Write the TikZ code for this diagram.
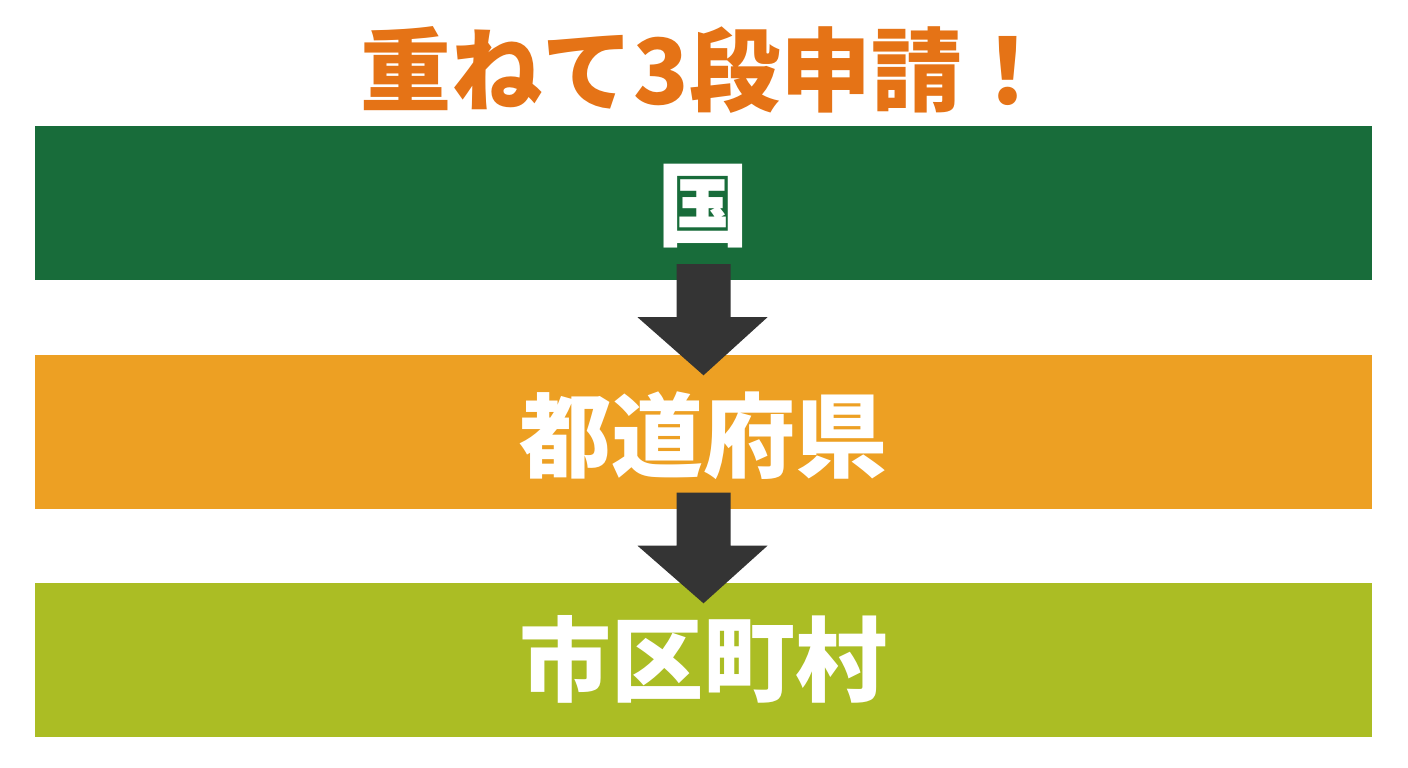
\documentclass[tikz,border=0pt]{standalone}
\usepackage{fontspec}
\newfontfamily\jpfont{Noto Sans CJK JP}
\usetikzlibrary{calc}

\definecolor{bandgreen}{RGB}{24,108,58}
\definecolor{bandorange}{RGB}{237,160,35}
\definecolor{bandlime}{RGB}{171,189,36}
\definecolor{titleorange}{RGB}{229,115,22}
\definecolor{arrowgray}{RGB}{52,52,52}

\tikzset{
  band/.style={rectangle, minimum width=1337pt, minimum height=154pt, inner sep=0pt,
    text=white, font=\jpfont\bfseries\fontsize{92}{92}\selectfont},
  bigarrow/.style={fill=arrowgray, draw=none}
}

\newcommand{\downarrowbox}[2]{%
  \fill[bigarrow] ($(#1.south)+(-27,-16)$) -- ($(#1.south)+(27,-16)$)
    -- ($(#1.south)+(27,37)$) -- ($(#1.south)+(64,37)$)
    -- ($(#2.north)+(0,21)$)
    -- ($(#1.south)+(-66,37)$) -- ($(#1.south)+(-27,37)$) -- cycle;}

\begin{document}
\begin{tikzpicture}[x=1pt,y=-1pt]

	\useasboundingbox[fill=white] (0,0) rectangle (1408,768);

	\node [text=titleorange, font=\jpfont\bfseries\fontsize{91}{91}\selectfont] (title) at (707,70) {重ねて3段申請！};

	\node [band, fill=bandgreen] (kuni) at (703.5,203) {};
	\node [text=white, font=\jpfont\bfseries\fontsize{92}{92}\selectfont] (kunitext) at (703.5,206) {国};
	\node [band, fill=bandorange] (ken) at (703.5,431.5) {};
	\node [text=white, font=\jpfont\bfseries\fontsize{92}{92}\selectfont] (kentext) at (703.5,436) {都道府県};
	\node [band, fill=bandlime] (shi) at (703.5,659.5) {};
	\node [text=white, font=\jpfont\bfseries\fontsize{92}{92}\selectfont] (shitext) at (703.5,659) {市区町村};

	\downarrowbox{kuni}{ken}
	\downarrowbox{ken}{shi}

\end{tikzpicture}
\end{document}
